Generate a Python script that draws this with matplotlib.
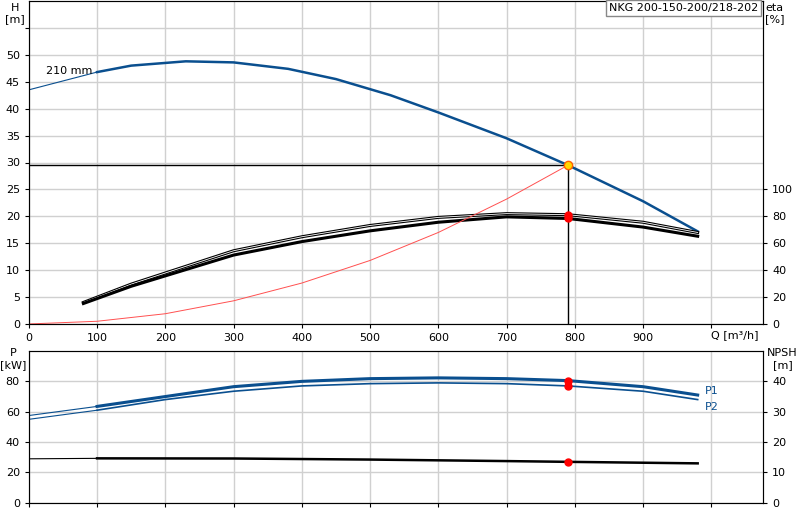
import matplotlib
matplotlib.use("Agg")
import matplotlib.pyplot as plt
import numpy as np

q_h = [0, 100, 150, 230, 300, 380, 450, 530, 600, 700, 790, 900, 980]
h = [43.5, 46.8, 48.0, 48.8, 48.6, 47.4, 45.5, 42.5, 39.3, 34.5, 29.5, 22.8, 17.2]
q_eta = [80, 150, 300, 400, 500, 600, 700, 790, 900, 980]
eta1 = [4.0, 7.4, 13.6, 16.2, 18.3, 19.8, 20.5, 20.3, 18.9, 17.0]   # H units (eta/4)
eta2 = [3.8, 7.0, 12.8, 15.3, 17.3, 18.9, 19.9, 19.6, 18.0, 16.3]
q_sys = [0, 100, 200, 300, 400, 500, 600, 700, 790]
h_sys = [0, 0.5, 1.9, 4.3, 7.6, 11.8, 17.0, 23.2, 29.5]
q_p = [0, 100, 200, 300, 400, 500, 600, 700, 790, 900, 980]
p1 = [57.5, 63.5, 70.0, 76.5, 80.0, 81.8, 82.3, 81.8, 80.5, 76.5, 71.0]
p2 = [55.0, 61.0, 68.0, 73.5, 77.0, 78.5, 79.0, 78.5, 77.0, 73.5, 68.0]
q_npsh = [0, 100, 300, 500, 700, 790, 980]
npsh_p = [29.0, 29.3, 29.2, 28.5, 27.5, 27.0, 26.0]  # P-axis units (NPSH*2)
q_op, h_op = 790, 29.5

blue = "#0a4f8f"
fig = plt.figure(figsize=(8, 5.2), dpi=100)
ax = fig.add_axes([0.036, 0.377, 0.918, 0.621])
bx = fig.add_axes([0.036, 0.033, 0.918, 0.292])
for a in (ax, bx):
    a.set_xlim(0, 1076)
    a.set_xticks(range(0, 1001, 100))
    a.grid(True, color="#d0d0d0", lw=1)
    a.set_axisbelow(True)
    a.tick_params(labelsize=8, length=3)
    for s in a.spines.values():
        s.set_color("#555555")

ax.set_ylim(0, 60)
ax.set_yticks(range(0, 56, 5))
ax.set_yticklabels([str(v) for v in range(0, 51, 5)] + [""])
ax.set_xticklabels([str(v) for v in range(0, 1000, 100)] + [""])
bx.set_xticklabels([])
bx.set_ylim(0, 100)
bx.set_yticks([0, 20, 40, 60, 80])

def seg(a, x, y, split, color, lw):
    x = np.array(x); y = np.array(y)
    i = np.searchsorted(x, split)
    a.plot(x[:i+1], y[:i+1], color=color, lw=0.8)
    a.plot(x[i:], y[i:], color=color, lw=lw)

seg(ax, q_h, h, 100, blue, 1.8)
ax.plot(q_eta, eta1, color="black", lw=2.2)
ax.plot(q_eta, eta1, color="white", lw=0.6)
ax.plot(q_eta, eta2, color="black", lw=2.2)
ax.plot(q_sys, h_sys, color="#ff5050", lw=0.7)
ax.plot([0, q_op], [h_op, h_op], color="black", lw=1)
ax.plot([q_op, q_op], [0, h_op], color="black", lw=1)
ax.plot(q_op, h_op, 'o', color="#ffd700", mec="#ff6000", ms=6)
ax.plot([q_op, q_op], [20.3, 19.6], 'o', color="red", ms=5)
ax.text(25, 46.5, "210 mm", fontsize=8)
ay = ax.twinx()
ay.set_ylim(0, 240)
ay.set_yticks(range(0, 101, 20))
ay.tick_params(labelsize=8, length=3)
fig.text(0.019, 0.995, "H\n[m]", fontsize=8, ha="center", va="top")
fig.text(0.968, 0.995, "eta\n[%]", fontsize=8, ha="center", va="top")
fig.text(0.948, 0.355, "Q [m³/h]", fontsize=8, ha="right", va="center")
fig.text(0.948, 0.985, "NKG 200-150-200/218-202", fontsize=8, ha="right", va="center",
         bbox=dict(facecolor="white", edgecolor="#888888", pad=2))

seg(bx, q_p, p1, 100, blue, 2.2)
seg(bx, q_p, p2, 100, blue, 1.2)
seg(bx, q_npsh, npsh_p, 100, "black", 1.8)
bx.plot([q_op]*2, [80.5, 77.0], 'o', color="red", ms=5)
bx.plot(q_op, 27.0, 'o', color="red", ms=5)
bx.text(990, 72, "P1", color=blue, fontsize=8)
bx.text(990, 61, "P2", color=blue, fontsize=8)
by = bx.twinx()
by.set_ylim(0, 50)
by.set_yticks([0, 10, 20, 30, 40])
by.tick_params(labelsize=8, length=3)
fig.text(0.017, 0.33, "P\n[kW]", fontsize=8, ha="center", va="top")
fig.text(0.978, 0.33, "NPSH\n[m]", fontsize=8, ha="center", va="top")
fig.savefig("out.png", dpi=100)
